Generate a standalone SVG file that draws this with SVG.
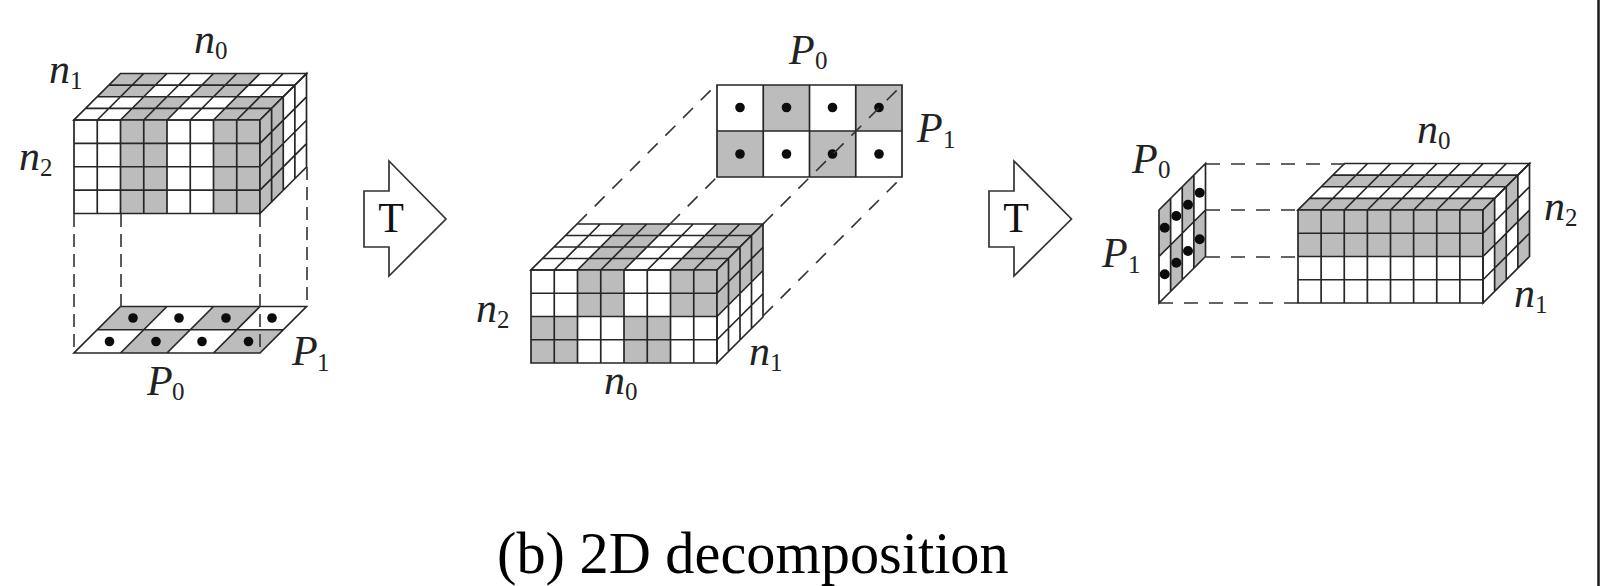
<svg xmlns="http://www.w3.org/2000/svg" width="1612" height="586" viewBox="0 0 1612 586">
<style>
.l{fill:none;stroke:#262626;stroke-width:1.7;vector-effect:non-scaling-stroke}
.g{fill:#bcbcbc;stroke:none}
.d{fill:none;stroke:#333;stroke-width:1.6;stroke-dasharray:14 11}
.e{fill:none;stroke:#333;stroke-width:1.6;stroke-dasharray:13 7}
.a{fill:#fff;stroke:#333;stroke-width:1.7}
.v{font-family:"Liberation Serif",serif;font-style:italic;font-size:42px;fill:#222}
.s{font-family:"Liberation Serif",serif;font-style:normal;font-size:25px}
.t{font-family:"Liberation Serif",serif;font-size:42px;fill:#111;text-anchor:middle}
.c{font-family:"Liberation Serif",serif;font-size:58.3px;fill:#000}
circle{fill:#0c0c0c}
</style>
<defs>
<path id="g84" class="l" d="M0 0H8V4H0ZM1 0V4M2 0V4M3 0V4M4 0V4M5 0V4M6 0V4M7 0V4M0 1H8M0 2H8M0 3H8"/>
<path id="g44" class="l" d="M0 0H4V4H0ZM1 0V4M2 0V4M3 0V4M0 1H4M0 2H4M0 3H4"/>
<path id="g42" class="l" d="M0 0H4V2H0ZM1 0V2M2 0V2M3 0V2M0 1H4"/>
</defs>
<g id="cube-a">
<g transform="matrix(23.25 0 11.625 -11.625 74 120)"><path class="g" d="M2 0H4V2H2ZM6 0H8V2H6ZM0 2H2V4H0ZM4 2H6V4H4Z"/><use href="#g84"/></g>
<g transform="matrix(23.25 0 0 23.375 74 120)"><path class="g" d="M2 0H4V4H2ZM6 0H8V4H6Z"/><use href="#g84"/></g>
<g transform="matrix(11.625 -11.625 0 23.375 260 120)"><path class="g" d="M0 0H2V4H0Z"/><use href="#g44"/></g>
</g>
<g id="plate-a">
<g transform="matrix(46.5 0 23.25 -23.25 74 353)"><path class="g" d="M1 0H2V1H1ZM3 0H4V1H3ZM0 1H1V2H0ZM2 1H3V2H2Z"/><use href="#g42"/></g>
<circle cx="133" cy="318" r="4.8"/><circle cx="179" cy="318" r="4.8"/><circle cx="226" cy="318" r="4.8"/><circle cx="272" cy="318" r="4.8"/>
<circle cx="109.500" cy="341.500" r="4.8"/><circle cx="156" cy="341.500" r="4.8"/><circle cx="202" cy="341.500" r="4.8"/><circle cx="248.500" cy="341.500" r="4.8"/>
</g>
<g id="arrow-a"><path class="a" d="M389 161L446 219L389 276V247H364V191H389Z"/><text class="t" x="391" y="232">T</text></g>
<g id="cube-b">
<g transform="matrix(23.25 0 11.5 -11.5 531 270)"><path class="g" d="M2 0H4V4H2ZM6 0H8V4H6Z"/><use href="#g84"/></g>
<g transform="matrix(23.25 0 0 23.25 531 270)"><path class="g" d="M2 0H4V2H2ZM6 0H8V2H6ZM0 2H2V4H0ZM4 2H6V4H4Z"/><use href="#g84"/></g>
<g transform="matrix(11.5 -11.5 0 23.25 717 270)"><path class="g" d="M0 0H4V2H0Z"/><use href="#g44"/></g>
</g>
<g id="plate-b">
<g transform="matrix(46.25 0 0 46 717 85)"><path class="g" d="M1 0H2V1H1ZM3 0H4V1H3ZM0 1H1V2H0ZM2 1H3V2H2Z"/><use href="#g42"/></g>
<circle cx="740" cy="107.500" r="4.8"/><circle cx="786.500" cy="107.500" r="4.8"/><circle cx="832.500" cy="107.500" r="4.8"/><circle cx="879" cy="107.500" r="4.8"/>
<circle cx="740" cy="154" r="4.8"/><circle cx="786.500" cy="154" r="4.8"/><circle cx="832.500" cy="154" r="4.8"/><circle cx="879" cy="154" r="4.8"/>
</g>
<g id="arrow-b"><path class="a" d="M1014 161L1071.500 219L1014 276V247H989V191H1014Z"/><text class="t" x="1016" y="232">T</text></g>
<g id="plate-c">
<g transform="matrix(11.625 -11.625 0 46.500 1159 210)"><path class="g" d="M0 0H1V1H0ZM2 0H3V1H2ZM1 1H2V2H1ZM3 1H4V2H3Z"/><use href="#g42"/></g>
<circle cx="1164.700" cy="227.700" r="5"/><circle cx="1176.300" cy="216" r="5"/><circle cx="1188" cy="204.700" r="5"/><circle cx="1199.700" cy="192.700" r="5"/>
<circle cx="1164.700" cy="274.300" r="5"/><circle cx="1176.300" cy="262.700" r="5"/><circle cx="1188" cy="251" r="5"/><circle cx="1199.700" cy="239.300" r="5"/>
</g>
<g id="cube-c">
<g transform="matrix(23.125 0 11.625 -11.625 1298 210)"><path class="g" d="M0 0H8V1H0ZM0 2H8V3H0Z"/><use href="#g84"/></g>
<g transform="matrix(23.125 0 0 23.25 1298 210)"><path class="g" d="M0 0H8V2H0Z"/><use href="#g84"/></g>
<g transform="matrix(11.625 -11.625 0 23.25 1483 210)"><path class="g" d="M0 0H1V2H0ZM1 2H2V4H1ZM2 0H3V2H2ZM3 2H4V4H3Z"/><use href="#g44"/></g>
</g>
<g id="connectors">
<path class="e" d="M74 214V353M121 214V307M260 214V353M307 167V307"/>
<path class="d" d="M577 224L712 89M670 224L717 177M763 224L902 85M763 316L902 177"/>
<path class="d" d="M1206 164H1345M1206 210H1298M1206 257H1298M1159 303H1298"/>
</g>
<g id="labels">
<text class="v" x="194" y="53">n<tspan class="s" x="215" dy="6">0</tspan></text>
<text class="v" x="49" y="83">n<tspan class="s" x="70" dy="6">1</tspan></text>
<text class="v" x="19" y="170">n<tspan class="s" x="40" dy="6">2</tspan></text>
<text class="v" x="147" y="395">P<tspan class="s" x="172" dy="5">0</tspan></text>
<text class="v" x="292" y="365">P<tspan class="s" x="317" dy="6">1</tspan></text>
<text class="v" x="476" y="322">n<tspan class="s" x="497" dy="6">2</tspan></text>
<text class="v" x="749" y="365">n<tspan class="s" x="770" dy="6">1</tspan></text>
<text class="v" x="604" y="394">n<tspan class="s" x="625" dy="6">0</tspan></text>
<text class="v" x="789" y="64">P<tspan class="s" x="815" dy="5">0</tspan></text>
<text class="v" x="917" y="142">P<tspan class="s" x="943" dy="6">1</tspan></text>
<text class="v" x="1132" y="173">P<tspan class="s" x="1158" dy="5">0</tspan></text>
<text class="v" x="1102" y="267">P<tspan class="s" x="1128" dy="6">1</tspan></text>
<text class="v" x="1417" y="143">n<tspan class="s" x="1438" dy="6">0</tspan></text>
<text class="v" x="1544" y="220">n<tspan class="s" x="1565" dy="6">2</tspan></text>
<text class="v" x="1514" y="307">n<tspan class="s" x="1535" dy="6">1</tspan></text>
<text class="c" x="497" y="573">(b) 2D decomposition</text>
</g>
<path d="M1598.500 0V586" fill="none" stroke="#1a1a1a" stroke-width="2.500"/>
</svg>
